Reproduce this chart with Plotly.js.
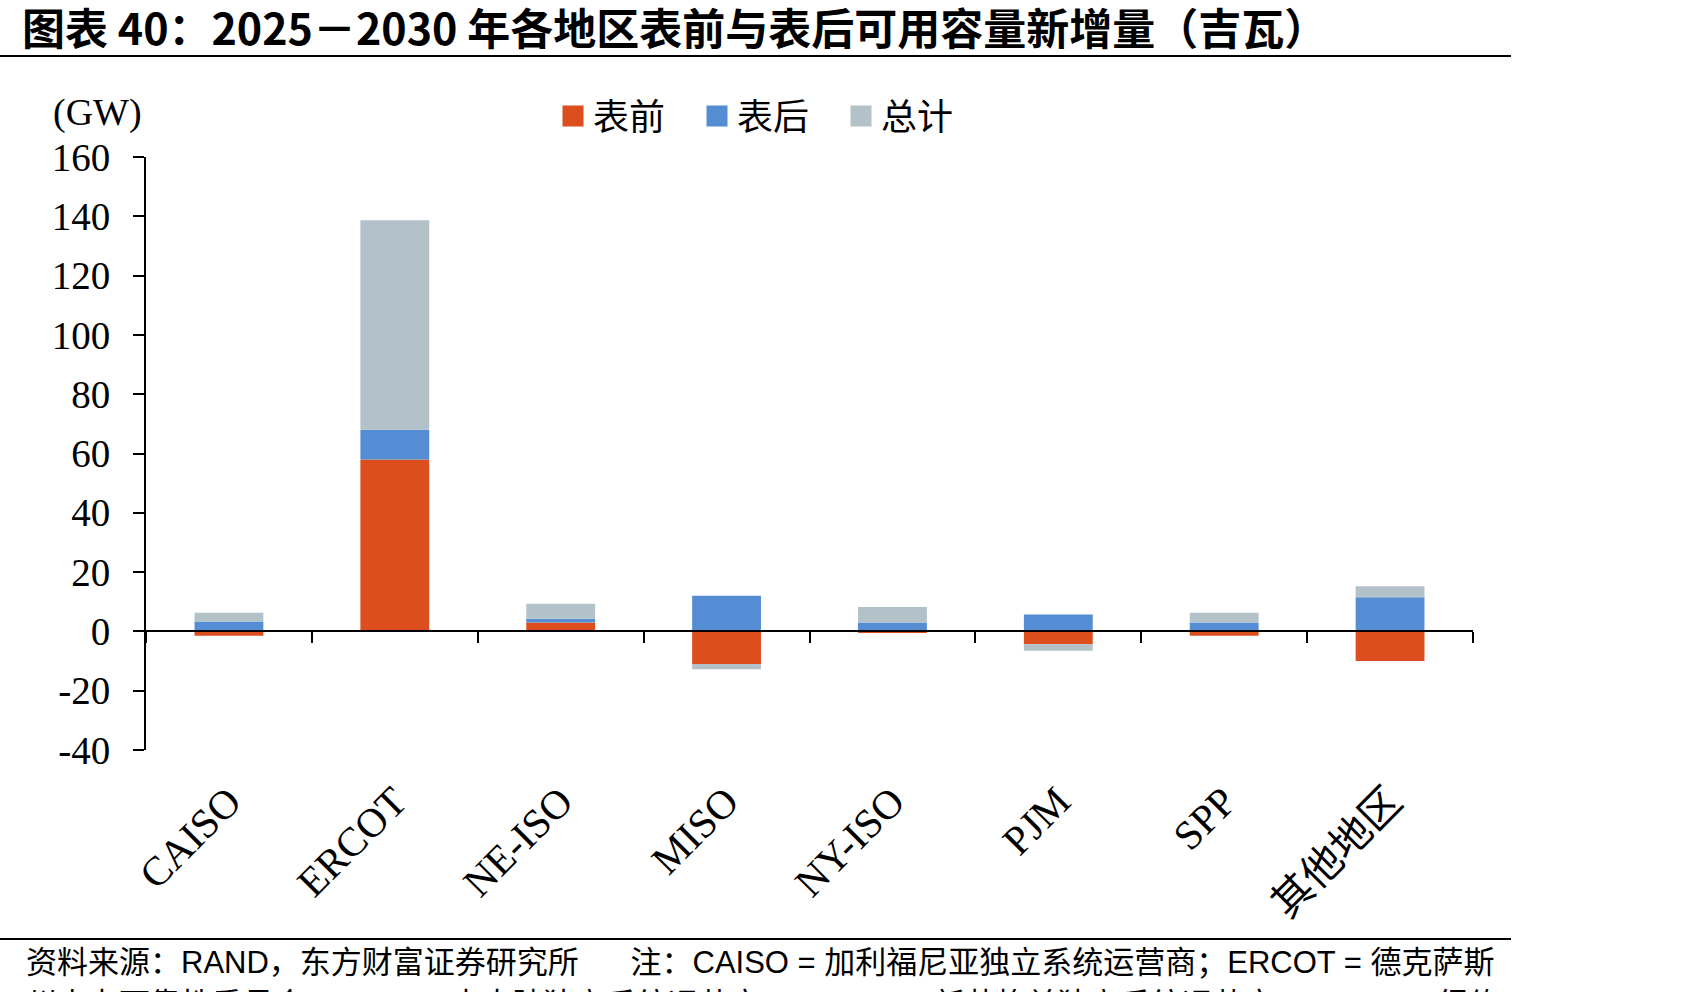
<!DOCTYPE html>
<html>
<head>
<meta charset="utf-8">
<script src="https://cdn.plot.ly/plotly-3.0.1.min.js"></script>
<style>html,body{margin:0;padding:0;background:#fff;}#chart{width:1701px;height:992px;}</style>
</head>
<body>
<div id="chart"></div>
<script>
// ---- data ----
const categories = ['CAISO', 'ERCOT', 'NE-ISO', 'MISO', 'NY-ISO', 'PJM', 'SPP', '其他地区'];
const frontOfMeter = [-1.5, 58, 3, -11, -0.5, -4.3, -1.5, -10];    // 表前
const behindMeter  = [3.3, 10, 1.3, 12, 3, 5.7, 3, 11.5];          // 表后
const totalSeries  = [3, 70.7, 5, -1.8, 5.2, -2.2, 3.3, 3.7];      // 总计
const seriesNames = ['表前', '表后', '总计'];
const yTickVals = [-40, -20, 0, 20, 40, 60, 80, 100, 120, 140, 160];

// ---- layout helpers ----
const W = 1701, H = 992;
const M = {l: 146, r: 228, t: 157, b: 242};
const PW = W - M.l - M.r, PH = H - M.t - M.b;
const px2x = px => (px - M.l) / PW;
const py2y = py => (H - M.b - py) / PH;
const yMin = -40, yMax = 160;

const serif = 'Liberation Serif, Times New Roman, Noto Sans CJK SC, serif';
const cjk = 'Noto Sans CJK SC, sans-serif';
const colors = ['#DC4E1E', '#548DD4', '#B3C1C8'];
const vals = [frontOfMeter, behindMeter, totalSeries];

const traces = vals.map((v, i) => ({
  type: 'bar', x: categories, y: v, name: seriesNames[i],
  marker: {color: colors[i], line: {width: 0}},
  xaxis: 'x', yaxis: 'y', showlegend: false, hoverinfo: 'x+y+name'
}));
// legend entries (larger square swatches than the bar legend symbol)
seriesNames.forEach((n, i) => traces.push({
  type: 'scatter', x: [null], y: [null], name: n, mode: 'markers',
  marker: {symbol: 'square', size: 16, color: colors[i], line: {color: colors[i], width: 5}},
  xaxis: 'x', yaxis: 'y', showlegend: true, hoverinfo: 'skip'
}));
// invisible helper trace carrying the category labels on the bottom axis
traces.push({
  type: 'scatter', x: categories, y: categories.map(() => 0), mode: 'markers',
  marker: {opacity: 0, size: 1}, xaxis: 'x2', yaxis: 'y', showlegend: false, hoverinfo: 'skip'
});

const layout = {
  width: W, height: H, autosize: false,
  margin: M,
  paper_bgcolor: '#fff', plot_bgcolor: '#fff',
  barmode: 'relative', bargap: 0.585,
  showlegend: true,
  title: {
    text: '<b>图表 40：2025－2030 年各地区表前与表后可用容量新增量（吉瓦）</b>',
    xref: 'container', yref: 'container', x: 22 / W, xanchor: 'left', y: 1 - 30 / H, yanchor: 'middle',
    font: {family: 'Liberation Sans Narrow, Noto Sans CJK SC, sans-serif', size: 43, color: '#000'}
  },
  legend: {
    orientation: 'h', xref: 'container', yref: 'container',
    x: 553 / W, xanchor: 'left', y: 1 - 116 / H, yanchor: 'middle',
    font: {family: cjk, size: 36, color: '#000'},
    entrywidth: 99, entrywidthmode: 'pixels', traceorder: 'normal',
    bgcolor: 'rgba(0,0,0,0)'
  },
  xaxis: {
    type: 'category', categoryorder: 'array', categoryarray: categories,
    range: [-0.5, categories.length - 0.5],
    anchor: 'free', position: (0 - yMin) / (yMax - yMin),
    showline: true, linecolor: '#000', linewidth: 2,
    ticks: 'outside', tickson: 'boundaries', ticklen: 11, tickwidth: 2, tickcolor: '#000',
    showticklabels: false, showgrid: false, zeroline: false, fixedrange: true
  },
  xaxis2: {
    type: 'category', categoryorder: 'array', categoryarray: categories,
    range: [-0.5, categories.length - 0.5],
    overlaying: 'x', anchor: 'y', side: 'bottom',
    showline: false, ticks: '', showgrid: false, zeroline: false,
    tickangle: -45, ticklabelstandoff: 18,
    tickfont: {family: serif, size: 41, color: '#000'}, fixedrange: true
  },
  yaxis: {
    range: [yMin, yMax], tickvals: yTickVals, ticktext: yTickVals.map(String),
    showline: true, linecolor: '#000', linewidth: 2,
    ticks: 'outside', ticklen: 11, tickwidth: 2, tickcolor: '#000',
    ticklabelstandoff: 15,
    tickfont: {family: serif, size: 39, color: '#000'},
    showgrid: false, zeroline: false, fixedrange: true
  },
  shapes: [
    {type: 'line', xref: 'paper', yref: 'paper', x0: px2x(0), x1: px2x(1511), y0: py2y(56), y1: py2y(56), line: {color: '#000', width: 2}},
    {type: 'line', xref: 'paper', yref: 'paper', x0: px2x(0), x1: px2x(1511), y0: py2y(939), y1: py2y(939), line: {color: '#000', width: 2}}
  ],
  annotations: [
    {text: '(GW)', xref: 'paper', yref: 'paper', x: px2x(51), y: py2y(112), xanchor: 'left', yanchor: 'middle',
     showarrow: false, font: {family: serif, size: 38, color: '#000'}},
    {text: '资料来源：RAND，东方财富证券研究所\u00a0\u00a0\u00a0\u00a0\u00a0\u00a0注：CAISO = 加利福尼亚独立系统运营商；ERCOT = 德克萨斯',
     xref: 'paper', yref: 'paper', x: px2x(24), y: py2y(962), xanchor: 'left', yanchor: 'middle',
     showarrow: false, font: {family: 'Liberation Sans, Noto Sans CJK SC, sans-serif', size: 31, color: '#000'}},
    {text: '州电力可靠性委员会；MISO = 中大陆独立系统运营商；NE-ISO = 新英格兰独立系统运营商；NYISO = 纽约',
     xref: 'paper', yref: 'paper', x: px2x(24), y: py2y(1004), xanchor: 'left', yanchor: 'middle',
     showarrow: false, font: {family: 'Liberation Sans, Noto Sans CJK SC, sans-serif', size: 31, color: '#000'}}
  ]
};

Plotly.newPlot('chart', traces, layout, {displayModeBar: false, staticPlot: true});
</script>
</body>
</html>
